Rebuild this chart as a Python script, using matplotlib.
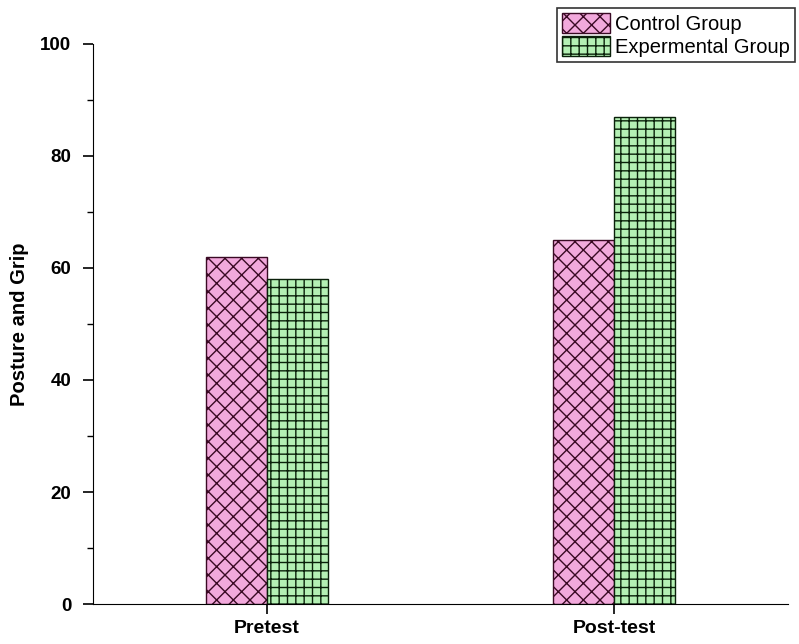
import matplotlib
matplotlib.use("Agg")
import matplotlib.pyplot as plt
from matplotlib.ticker import MultipleLocator
import numpy as np

# data
categories = ["Pretest", "Post-test"]
control = [62, 65]
experimental = [58, 87]
series_names = ["Control Group", "Expermental Group"]
y_ticks = [0, 20, 40, 60, 80, 100]

plt.rcParams['font.family'] = ['Liberation Sans', 'DejaVu Sans']
plt.rcParams['hatch.linewidth'] = 1.0

fig = plt.figure(figsize=(7.99, 6.44), dpi=100)
ax = fig.add_axes([0.1164, 0.0621, 0.8698, 0.8696])

x = np.arange(len(categories))
w = 0.176
ax.bar(x - w / 2, control, w, color='#f2a9dc', edgecolor='#3a0a24',
       hatch='xx', linewidth=1.0, label=series_names[0])
ax.bar(x + w / 2, experimental, w, color='#b4f0b4', edgecolor='#0a200a',
       hatch='++', linewidth=1.0, label=series_names[1])

ax.set_xlim(-0.5, 1.5)
ax.set_ylim(0, 100)
ax.set_yticks(y_ticks)
ax.yaxis.set_minor_locator(MultipleLocator(10))
ax.set_xticks(x)
ax.set_xticklabels(categories, fontsize=14, fontweight='bold')
for lab in ax.get_yticklabels():
    lab.set_fontsize(13.5)
    lab.set_fontweight('bold')
ax.set_ylabel("Posture and Grip", fontsize=14.5, fontweight='bold', labelpad=8)

ax.spines['top'].set_visible(False)
ax.spines['right'].set_visible(False)
ax.tick_params(axis='y', which='major', direction='out', length=7.5, width=1.2, pad=8)
ax.tick_params(axis='y', which='minor', direction='out', length=4, width=1.0)
ax.tick_params(axis='x', direction='out', length=7.5, width=1.2, pad=4)

leg = ax.legend(loc='upper left', bbox_to_anchor=(557 / 799, 1 - 8 / 644),
                bbox_transform=fig.transFigure, fontsize=14.5, frameon=True,
                fancybox=False, edgecolor='black', handlelength=2.4,
                handleheight=1.15, borderpad=0.25, labelspacing=0.1,
                handletextpad=0.25, borderaxespad=0)
leg.get_frame().set_linewidth(1.2)

fig.savefig("out.png", dpi=100)
